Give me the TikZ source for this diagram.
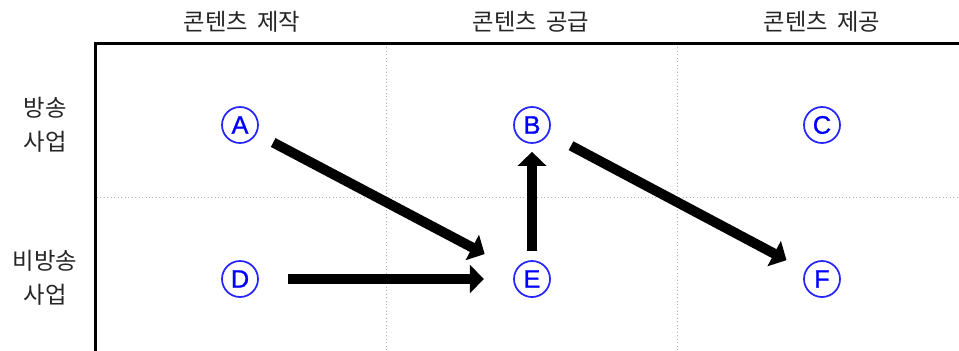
\documentclass[tikz,border=0pt]{standalone}
\usepackage{fontspec}
\setmainfont{Liberation Sans}
\newfontfamily\krfont{Noto Sans CJK KR}
\newfontfamily\letterfont[FakeBold=1]{Liberation Sans}
\usetikzlibrary{arrows.meta}
\begin{document}
\begin{tikzpicture}[x=0.75pt,y=-0.75pt,
  frameline/.style={line width=2.25pt, line cap=rect},
  gridline/.style={gray!60, line width=0.6pt, dotted},
  label/.style={font=\krfont\fontsize{17.5pt}{25.5pt}\selectfont, align=center, text=black!85},
  letter/.style={circle, draw=blue!85, line width=1.3pt, text=blue, minimum size=27pt, inner sep=0pt, font=\letterfont\fontsize{19pt}{19pt}\selectfont},
  flow/.style={line width=7.5pt, -{Triangle[length=10.5pt,width=21pt]}}
]
\useasboundingbox (0,0) rectangle (959,350);
\fill[white] (0,0) rectangle (959,350);
% grid
\draw[gridline] (386,44) -- (386,350);
\draw[gridline] (677,44) -- (677,350);
\draw[gridline] (97,197) -- (959,197);
% frame
\draw[frameline] (959,43) -- (95,43) -- (95,352);
% headers
\node[label] (h1) at (242,22) {콘텐츠\hspace{3pt} 제작};
\node[label] (h2) at (531,22) {콘텐츠\hspace{3pt} 공급};
\node[label] (h3) at (822,22) {콘텐츠\hspace{3pt} 제공};
% row labels
\node[label] (r1) at (45,125) {방송\\사업};
\node[label] (r2) at (45,278) {비방송\\사업};
% letters
\node[letter] (A) at (240,125) {A};
\node[letter] (B) at (532,125) {B};
\node[letter] (C) at (822,125) {C};
\node[letter] (D) at (240,279) {D};
\node[letter] (E) at (532,279) {E};
\node[letter] (F) at (822,279) {F};
% arrows
\draw[flow, shorten <=14pt, shorten >=26pt] (A) -- (E);
\draw[flow, shorten <=22pt, shorten >=22pt] (D) -- (E);
\draw[flow, shorten <=7pt, shorten >=6pt] (E) -- (B);
\draw[flow, shorten <=19pt, shorten >=16pt] (B) -- (F);
\end{tikzpicture}
\end{document}
